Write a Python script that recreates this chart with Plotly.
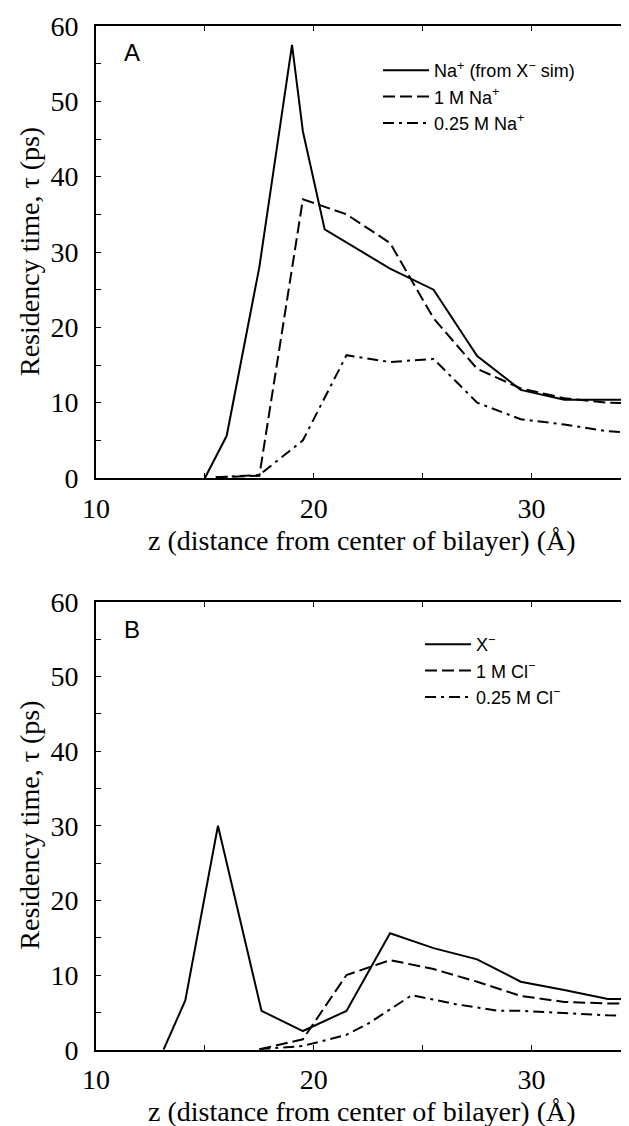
import plotly.graph_objects as go

# ---------- data (panel A: Na+) ----------
na_xsim_z = [15.0, 16.0, 17.5, 19.0, 19.5, 20.5, 23.5, 25.5, 27.5, 29.5, 31.5, 33.5, 35.5]
na_xsim_tau = [0.0, 5.6, 28.0, 57.5, 46.0, 33.0, 27.8, 25.0, 16.2, 11.7, 10.4, 10.4, 10.4]

na_1m_z = [15.5, 17.5, 19.5, 21.5, 23.5, 25.5, 27.5, 29.5, 31.5, 33.5, 35.5]
na_1m_tau = [0.1, 0.3, 37.0, 35.0, 31.2, 21.2, 14.5, 11.9, 10.6, 10.0, 9.8]

na_025m_z = [15.5, 17.5, 19.5, 21.5, 23.5, 25.5, 27.5, 29.5, 31.5, 33.5, 35.5]
na_025m_tau = [0.1, 0.4, 5.0, 16.3, 15.4, 15.8, 10.0, 7.8, 7.1, 6.2, 5.9]

# ---------- data (panel B: anions) ----------
x_z = [13.1, 14.1, 15.6, 17.6, 19.5, 21.5, 23.5, 25.5, 27.5, 29.5, 31.5, 33.5, 35.5]
x_tau = [0.0, 6.6, 30.0, 5.2, 2.5, 5.2, 15.6, 13.6, 12.1, 9.1, 8.0, 6.8, 6.8]

cl_1m_z = [17.5, 19.5, 21.5, 23.5, 25.5, 27.5, 29.5, 31.5, 33.5, 35.5]
cl_1m_tau = [0.05, 1.4, 10.0, 12.0, 10.8, 9.1, 7.2, 6.4, 6.2, 6.2]

cl_025m_z = [17.5, 19.5, 21.5, 22.5, 24.5, 26.5, 28.5, 29.5, 31.5, 33.5, 35.5]
cl_025m_tau = [0.05, 0.5, 2.0, 3.5, 7.3, 6.1, 5.2, 5.2, 4.9, 4.6, 4.5]

names_a = ["Na<sup>+</sup> (from X<sup>\u2212</sup> sim)", "1 M Na<sup>+</sup>", "0.25 M Na<sup>+</sup>"]
names_b = ["X<sup>\u2212</sup>", "1 M Cl<sup>\u2212</sup>", "0.25 M Cl<sup>\u2212</sup>"]

x_ticks = [10, 20, 30]
y_ticks = [0, 10, 20, 30, 40, 50, 60]
x_title = "z (distance from center of bilayer) (\u00c5)"
y_title = "Residency time, \u03c4 (ps)"

SERIF = "Liberation Serif"
SANS = "Liberation Sans"
DASH = "12px,5px"
DASHDOT = "11px,5px,3px,5px"
LW = 2

fig = go.Figure()

styles = ["solid", DASH, DASHDOT]
for z, t, nm, dsh in zip([na_xsim_z, na_1m_z, na_025m_z],
                         [na_xsim_tau, na_1m_tau, na_025m_tau], names_a, styles):
    fig.add_trace(go.Scatter(x=z, y=t, mode="lines", name=nm,
                             line=dict(color="black", width=LW, dash=dsh),
                             xaxis="x", yaxis="y", legend="legend"))
for z, t, nm, dsh in zip([x_z, cl_1m_z, cl_025m_z],
                         [x_tau, cl_1m_tau, cl_025m_tau], names_b, styles):
    fig.add_trace(go.Scatter(x=z, y=t, mode="lines", name=nm,
                             line=dict(color="black", width=LW, dash=dsh),
                             xaxis="x2", yaxis="y2", legend="legend2"))

# page offset of the figure inside the browser (default body margin)
OFF = 8
SW, SH = 629, 1126            # screen size
W, H = SW - OFF, SH - OFF     # figure size
L = 96 - OFF                  # left edge of plot area (figure px)
XMAX = 10 + (SW - 95.5) / 21.8


def px_x(p):  # screen px -> paper x
    return (p - OFF - L) / (W - L)


def px_y(p):  # screen px -> paper y
    return (H - (p - OFF)) / H


def xax(anchor):
    return dict(range=[10, XMAX], anchor=anchor, domain=[0, 1], automargin=False,
                showline=True, linecolor="black", linewidth=2, mirror="ticks",
                ticks="inside", ticklen=5, tickwidth=1, tickcolor="black",
                tickvals=x_ticks, ticktext=[str(v) for v in x_ticks],
                minor=dict(ticks="inside", dtick=5, tick0=0, ticklen=5, tickwidth=1, tickcolor="black"),
                showgrid=False, zeroline=False,
                tickfont=dict(family=SERIF, size=28, color="black"),
                ticklabelstandoff=4)


def yax(anchor, dom):
    return dict(range=[0, 60], anchor=anchor, domain=dom, automargin=False,
                showline=True, linecolor="black", linewidth=2, mirror=False,
                ticks="inside", ticklen=5, tickwidth=1, tickcolor="black",
                tickvals=y_ticks, ticktext=[str(v) for v in y_ticks],
                minor=dict(ticks="inside", dtick=5, tick0=0, ticklen=5, tickwidth=1, tickcolor="black"),
                showgrid=False, zeroline=False,
                tickfont=dict(family=SERIF, size=28, color="black"),
                ticklabelstandoff=10)


domA = [px_y(478), px_y(26)]
domB = [px_y(1049.7), px_y(601.7)]

annotations = []
for cy, lab, ty in [(252, "A", 52), (825.7, "B", 629)]:
    annotations.append(dict(text=y_title, textangle=-90, x=px_x(30), y=px_y(cy),
                            xref="paper", yref="paper", showarrow=False,
                            font=dict(family=SERIF, size=28, color="black"),
                            xanchor="center", yanchor="middle"))
    annotations.append(dict(text=lab, x=px_x(132), y=px_y(ty), xref="paper", yref="paper",
                            showarrow=False, font=dict(family=SANS, size=24, color="black"),
                            xanchor="center", yanchor="middle"))
for cy in (540, 1111):
    annotations.append(dict(text=x_title, x=px_x(362), y=px_y(cy), xref="paper", yref="paper",
                            showarrow=False, font=dict(family=SERIF, size=28, color="black"),
                            xanchor="center", yanchor="middle"))

leg_common = dict(bgcolor="rgba(0,0,0,0)", borderwidth=0,
                  font=dict(family=SANS, size=18, color="black"),
                  xanchor="left", yanchor="top", itemwidth=46, tracegroupgap=0)

fig.update_layout(
    width=W, height=H,
    margin=dict(l=L, r=0, t=0, b=0, autoexpand=False),
    paper_bgcolor="white", plot_bgcolor="white",
    xaxis=xax("y"), yaxis=yax("x", domA),
    xaxis2=xax("y2"), yaxis2=yax("x2", domB),
    legend=dict(x=px_x(378), y=px_y(52), **leg_common),
    legend2=dict(x=px_x(420), y=px_y(626), **leg_common),
    annotations=annotations,
    showlegend=True,
)

fig.write_html("out.html")
